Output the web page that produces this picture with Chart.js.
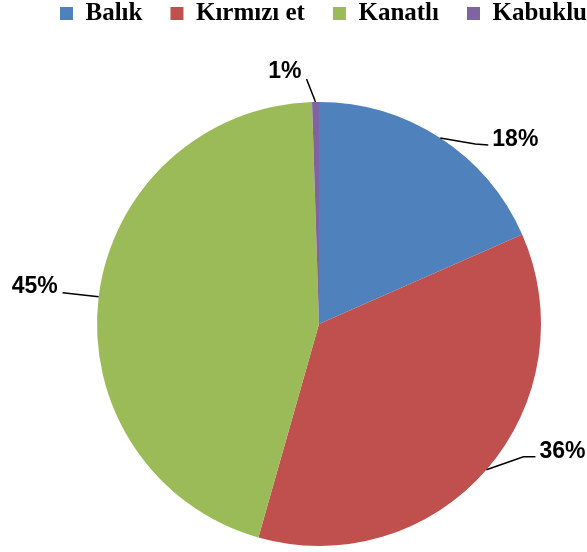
<!DOCTYPE html>
<html>
<head>
<meta charset="utf-8">
<script src="https://cdn.jsdelivr.net/npm/chart.js@4.4.1/dist/chart.umd.min.js"></script>
<style>
  html, body { margin: 0; padding: 0; background: #fff; }
  #wrap { width: 587px; height: 552px; }
</style>
</head>
<body>
<div id="wrap"><canvas id="pie"></canvas></div>
<script>
const categories = ['Balık', 'Kırmızı et', 'Kanatlı', 'Kabuklu'];
const shares = [18.4, 36.0, 45.1, 0.5];
const colors = ['#4F81BD', '#C0504D', '#9BBB59', '#8064A2'];

// leader line layout per slice: elbow offset, end offset (from the arc edge), text side
const leaders = [
  { elbow: [35, 6], end: [48, 7], side: 'right' },
  { elbow: [37, -13], end: [49, -13], side: 'right' },
  { elbow: [-36, -4], end: [-36, -4], side: 'left' },
  { elbow: [-9, -23], end: [-9, -23], side: 'top' },
];

// stretch the legend box so the pie starts where it does in the original,
// and let the single legend row run wider than the pie area
const legendSpace = {
  id: 'legendSpace',
  beforeInit(chart) {
    const legend = chart.legend;
    const fit = legend.fit;
    legend.fit = function () {
      this.maxWidth = 700;
      fit.call(this);
      this.height = 129;
    };
  },
  afterLayout(chart) {
    chart.legend.left = 0;
    chart.legend.right = 647;
  }
};

const pctLabels = {
  id: 'pctLabels',
  afterDatasetsDraw(chart) {
    const ctx = chart.ctx;
    const meta = chart.getDatasetMeta(0);
    ctx.save();
    ctx.strokeStyle = '#000';
    ctx.lineWidth = 1.5;
    ctx.fillStyle = '#000';
    ctx.font = 'bold 23px "Liberation Sans", Arial, sans-serif';
    meta.data.forEach((arc, i) => {
      const p = arc.getProps(['x', 'y', 'startAngle', 'endAngle', 'outerRadius'], true);
      const mid = (p.startAngle + p.endAngle) / 2;
      const ex = p.x + Math.cos(mid) * p.outerRadius;
      const ey = p.y + Math.sin(mid) * p.outerRadius;
      const l = leaders[i];
      const bx = ex + l.elbow[0], by = ey + l.elbow[1];
      const cx = ex + l.end[0], cy = ey + l.end[1];
      ctx.beginPath();
      ctx.moveTo(ex, ey);
      ctx.lineTo(bx, by);
      ctx.lineTo(cx, cy);
      ctx.stroke();
      const txt = Math.round(shares[i]) + '%';
      ctx.textBaseline = 'alphabetic';
      if (l.side === 'right') {
        ctx.textAlign = 'left';
        ctx.fillText(txt, cx + 4, cy + 1);
      } else if (l.side === 'left') {
        ctx.textAlign = 'right';
        ctx.fillText(txt, cx - 5, cy);
      } else {
        ctx.textAlign = 'right';
        ctx.fillText(txt, cx - 5, cy - 1);
      }
    });
    ctx.restore();
  }
};

new Chart(document.getElementById('pie'), {
  type: 'pie',
  data: {
    labels: categories,
    datasets: [{
      data: shares,
      backgroundColor: colors,
      borderWidth: 0,
    }]
  },
  options: {
    responsive: true,
    maintainAspectRatio: false,
    animation: false,
    layout: { padding: { top: -27, bottom: 6, left: 60, right: 9 } },
    plugins: {
      tooltip: { enabled: false },
      legend: {
        position: 'top',
        labels: {
          boxWidth: 13,
          boxHeight: 13,
          padding: 28,
          color: '#000',
          font: { family: '"Liberation Serif", "Times New Roman", serif', size: 25, weight: 'bold' },
        }
      }
    }
  },
  plugins: [legendSpace, pctLabels]
});
</script>
</body>
</html>
